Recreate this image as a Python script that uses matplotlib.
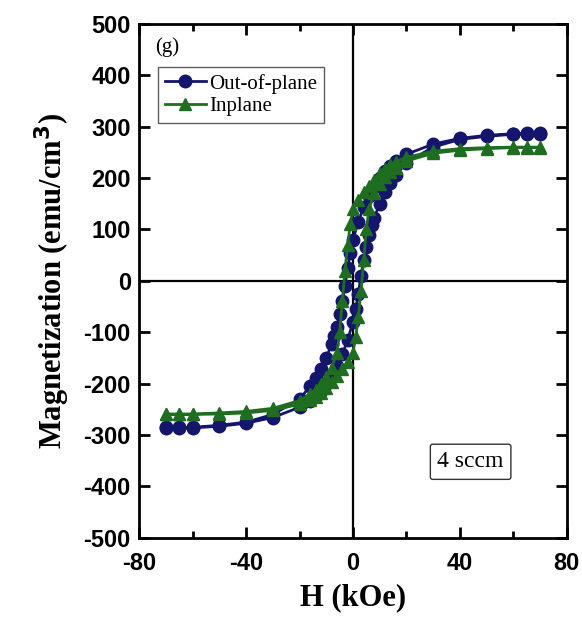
import matplotlib
matplotlib.use("Agg")
import matplotlib.pyplot as plt
from matplotlib.ticker import MultipleLocator

plt.rcParams["axes.unicode_minus"] = False

# out-of-plane, descending branch (+70 -> -70)
h_oop = [70, 65, 60, 50, 40, 30, 20, 16, 14, 12, 10, 8, 6, 4, 2, 0, -1, -2, -3, -4,
         -5, -6, -7, -8, -10, -12, -14, -16, -20, -30, -40, -50, -60, -65, -70]
m_oop = [287, 287, 286, 283, 277, 266, 246, 233, 224, 214, 200, 183, 165, 143, 115, 80, 55, 25, -10, -40,
         -65, -90, -108, -123, -150, -172, -190, -205, -230, -260, -275, -281, -285, -285, -285]

# inplane, descending branch (+70 -> -70)
h_ip = [70, 65, 60, 50, 40, 30, 20, 16, 14, 12, 10, 8, 6, 4, 2, 0, -1, -2, -3, -4,
        -5, -6, -8, -10, -12, -14, -16, -20, -30, -40, -50, -60, -65, -70]
m_ip = [260, 260, 260, 259, 257, 252, 240, 232, 226, 218, 209, 197, 185, 172, 158, 140, 110, 70, 20, -40,
        -100, -140, -170, -188, -201, -212, -220, -233, -248, -254, -257, -259, -259, -259]

# ascending branches are the mirror of the descending ones
h_oop_full = h_oop + [-h for h in h_oop]
m_oop_full = m_oop + [-m for m in m_oop]
h_ip_full = h_ip + [-h for h in h_ip]
m_ip_full = m_ip + [-m for m in m_ip]

navy = "#14166e"
green = "#1f6e1f"

fig = plt.figure(figsize=(5.82, 6.24), dpi=100)
ax = fig.add_axes([0.239, 0.138, 0.735, 0.824])

ax.axhline(0, color="black", lw=1.6, zorder=1)
ax.axvline(0, color="black", lw=1.6, zorder=1)

ax.plot(h_oop_full, m_oop_full, "-o", color=navy, mfc=navy, mec=navy, ms=9, lw=2,
        label="Out-of-plane", zorder=3)
ax.plot(h_ip_full, m_ip_full, "-^", color=green, mfc=green, mec=green, ms=9, lw=2,
        label="Inplane", zorder=4)

ax.set_xlim(-80, 80)
ax.set_ylim(-500, 500)
ax.xaxis.set_major_locator(MultipleLocator(40))
ax.xaxis.set_minor_locator(MultipleLocator(20))
ax.yaxis.set_major_locator(MultipleLocator(100))
ax.tick_params(which="both", direction="in", top=True, right=True, width=2)
ax.tick_params(which="major", length=8)
ax.tick_params(which="minor", length=5)
ax.tick_params(axis="x", which="major", pad=10)
ax.tick_params(axis="y", which="major", pad=6)
for sp in ax.spines.values():
    sp.set_linewidth(2)

for lab in ax.get_xticklabels() + ax.get_yticklabels():
    lab.set_fontfamily("Liberation Sans")
    lab.set_fontweight("bold")
    lab.set_fontsize(17)

ax.set_xlabel("H (kOe)", fontfamily="Liberation Serif", fontweight="bold", fontsize=22, labelpad=6)
ax.set_ylabel("Magnetization (emu/cm$^{\\mathbf{3}}$)", fontfamily="Liberation Serif",
              fontweight="bold", fontsize=22, labelpad=8)

leg = ax.legend(loc="upper left", bbox_to_anchor=(0.045, 0.915), frameon=True, fancybox=False,
                edgecolor="#333333", prop={"family": "Liberation Serif", "size": 15},
                handlelength=2.0, handletextpad=0.15, borderpad=0.3, labelspacing=0.15,
                borderaxespad=0)
leg.get_frame().set_linewidth(1)

ax.text(-74, 455, "(g)", fontfamily="Liberation Serif", fontsize=15, ha="left", va="center")
ax.text(44, -352, "4 sccm", fontfamily="Liberation Serif", fontsize=17, ha="center", va="center",
        bbox=dict(boxstyle="round,pad=0.3,rounding_size=0.1", fc="white", ec="#333333", lw=1))

fig.savefig("out.png", dpi=100)
